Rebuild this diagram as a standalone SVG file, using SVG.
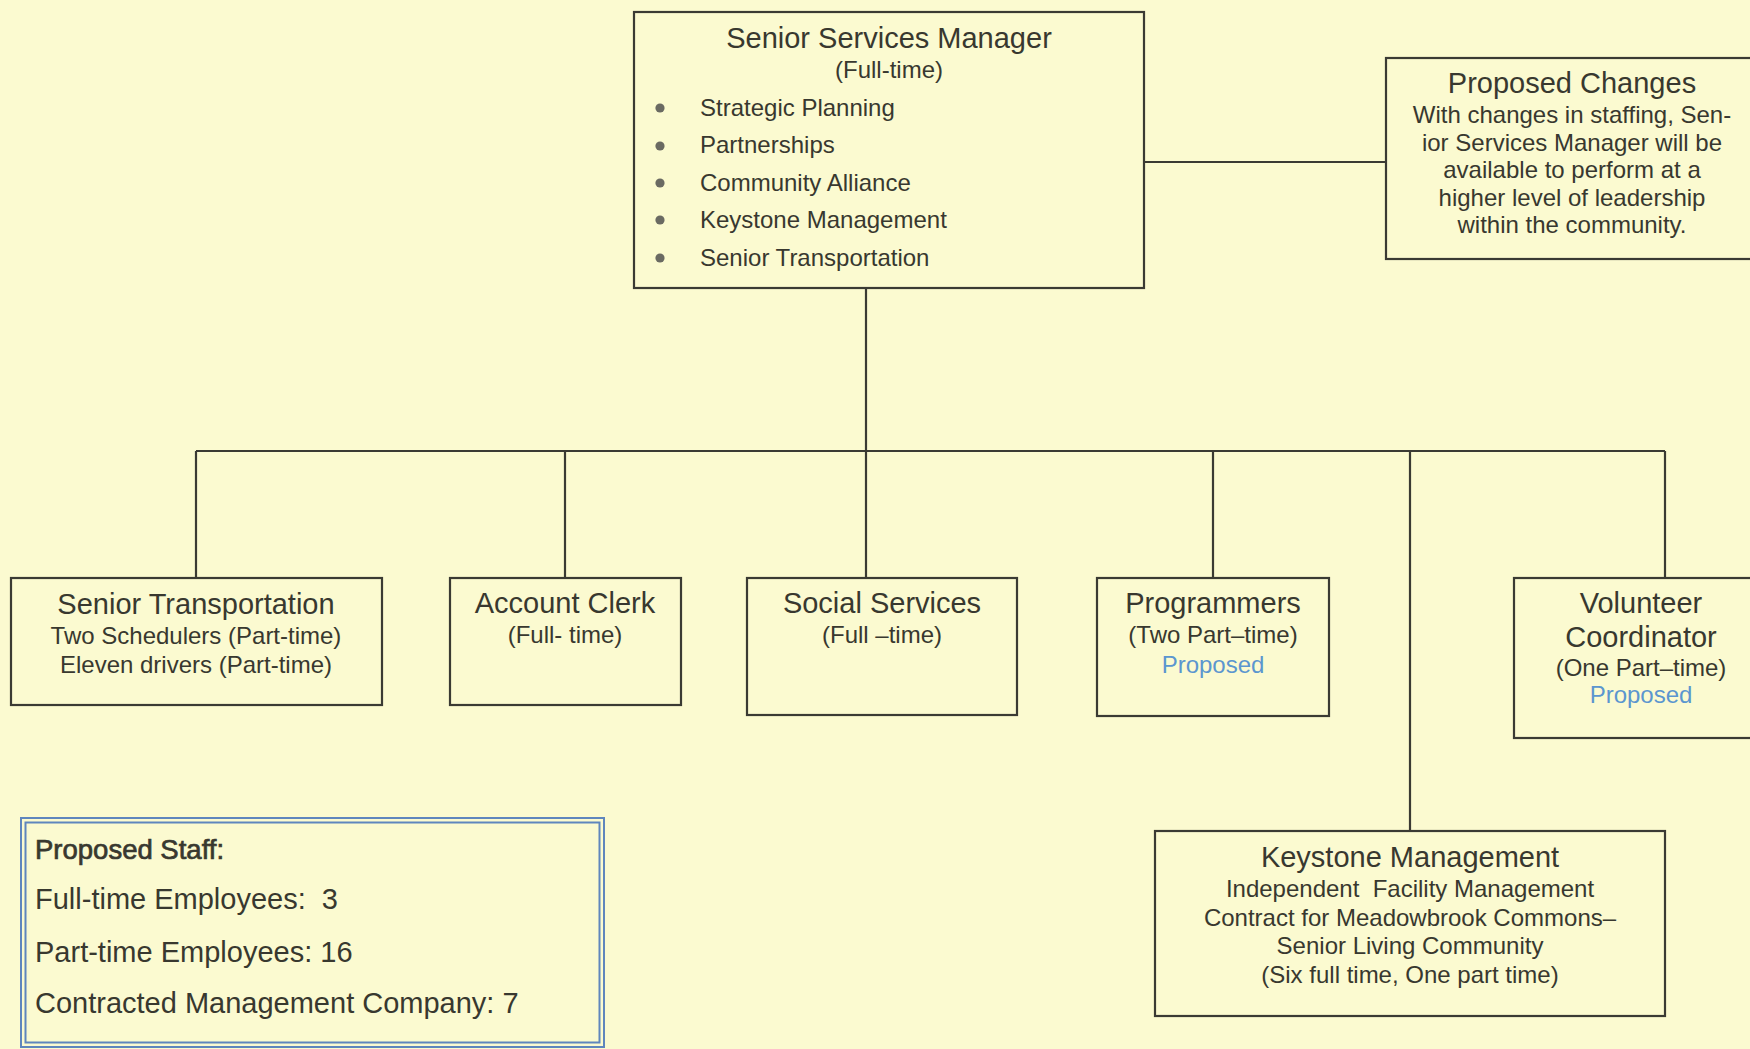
<svg xmlns="http://www.w3.org/2000/svg" width="1750" height="1049" viewBox="0 0 1750 1049">
<style>
text{font-family:"Liberation Sans",Arial,sans-serif;fill:#38382f;}
.t{font-size:29px;text-anchor:middle;}
.s{font-size:24px;text-anchor:middle;}
.b{font-size:24px;}
.blue{fill:#5b96cf;}
.box{fill:none;stroke:#3a3a33;stroke-width:2.2;}
.ln{stroke:#3a3a33;stroke-width:2.2;fill:none;}
.st{font-size:29px;white-space:pre;}
.dbl{fill:none;stroke:#5f86bd;stroke-width:2;}
</style>
<rect x="0" y="0" width="1750" height="1049" fill="#fbfad0"/>

<g id="connectors">
<line class="ln" x1="866" y1="288" x2="866" y2="451"/>
<line class="ln" x1="1144" y1="162" x2="1386" y2="162"/>
<line class="ln" x1="196" y1="451" x2="1665" y2="451"/>
<line class="ln" x1="196" y1="451" x2="196" y2="578"/>
<line class="ln" x1="565" y1="451" x2="565" y2="578"/>
<line class="ln" x1="866" y1="451" x2="866" y2="578"/>
<line class="ln" x1="1213" y1="451" x2="1213" y2="578"/>
<line class="ln" x1="1410" y1="451" x2="1410" y2="831"/>
<line class="ln" x1="1665" y1="451" x2="1665" y2="578"/>
</g>

<g id="senior-services-manager">
<rect class="box" x="634" y="12" width="510" height="276"/>
<text class="t" x="889" y="48">Senior Services Manager</text>
<text class="s" x="889" y="78">(Full-time)</text>
<g fill="#6a6a62">
<circle cx="660" cy="108" r="4.6"/>
<circle cx="660" cy="146" r="4.6"/>
<circle cx="660" cy="183" r="4.6"/>
<circle cx="660" cy="220" r="4.6"/>
<circle cx="660" cy="258" r="4.6"/>
</g>
<text class="b" x="700" y="116">Strategic Planning</text>
<text class="b" x="700" y="153">Partnerships</text>
<text class="b" x="700" y="191">Community Alliance</text>
<text class="b" x="700" y="228">Keystone Management</text>
<text class="b" x="700" y="266">Senior Transportation</text>
</g>

<g id="proposed-changes">
<rect class="box" x="1386" y="58" width="380" height="201"/>
<text class="t" x="1572" y="93">Proposed Changes</text>
<text class="s" x="1572" y="123">With changes in staffing, Sen-</text>
<text class="s" x="1572" y="150.5">ior Services Manager will be</text>
<text class="s" x="1572" y="178">available to perform at a</text>
<text class="s" x="1572" y="205.5">higher level of leadership</text>
<text class="s" x="1572" y="233">within the community.</text>
</g>

<g id="senior-transportation">
<rect class="box" x="11" y="578" width="371" height="127"/>
<text class="t" x="196" y="614">Senior Transportation</text>
<text class="s" x="196" y="644">Two Schedulers (Part-time)</text>
<text class="s" x="196" y="673">Eleven drivers (Part-time)</text>
</g>

<g id="account-clerk">
<rect class="box" x="450" y="578" width="231" height="127"/>
<text class="t" x="565" y="613">Account Clerk</text>
<text class="s" x="565" y="643">(Full- time)</text>
</g>

<g id="social-services">
<rect class="box" x="747" y="578" width="270" height="137"/>
<text class="t" x="882" y="613">Social Services</text>
<text class="s" x="882" y="643">(Full –time)</text>
</g>

<g id="programmers">
<rect class="box" x="1097" y="578" width="232" height="138"/>
<text class="t" x="1213" y="613">Programmers</text>
<text class="s" x="1213" y="643">(Two Part–time)</text>
<text class="s blue" x="1213" y="673">Proposed</text>
</g>

<g id="volunteer-coordinator">
<rect class="box" x="1514" y="578" width="260" height="160"/>
<text class="t" x="1641" y="613">Volunteer</text>
<text class="t" x="1641" y="647">Coordinator</text>
<text class="s" x="1641" y="676">(One Part–time)</text>
<text class="s blue" x="1641" y="703">Proposed</text>
</g>

<g id="keystone-management">
<rect class="box" x="1155" y="831" width="510" height="185"/>
<text class="t" x="1410" y="867">Keystone Management</text>
<text class="s" x="1410" y="897" style="white-space:pre">Independent  Facility Management</text>
<text class="s" x="1410" y="926">Contract for Meadowbrook Commons–</text>
<text class="s" x="1410" y="954">Senior Living Community</text>
<text class="s" x="1410" y="983">(Six full time, One part time)</text>
</g>

<g id="proposed-staff">
<rect class="dbl" x="21" y="818" width="583" height="229"/>
<rect class="dbl" x="25.5" y="822.5" width="574" height="220" stroke-width="1.4"/>
<text x="35" y="859" font-size="27.5" stroke="#38382f" stroke-width="0.7">Proposed Staff:</text>
<text class="st" x="35" y="909">Full-time Employees:  3</text>
<text class="st" x="35" y="962">Part-time Employees: 16</text>
<text class="st" x="35" y="1013">Contracted Management Company: 7</text>
</g>
</svg>
